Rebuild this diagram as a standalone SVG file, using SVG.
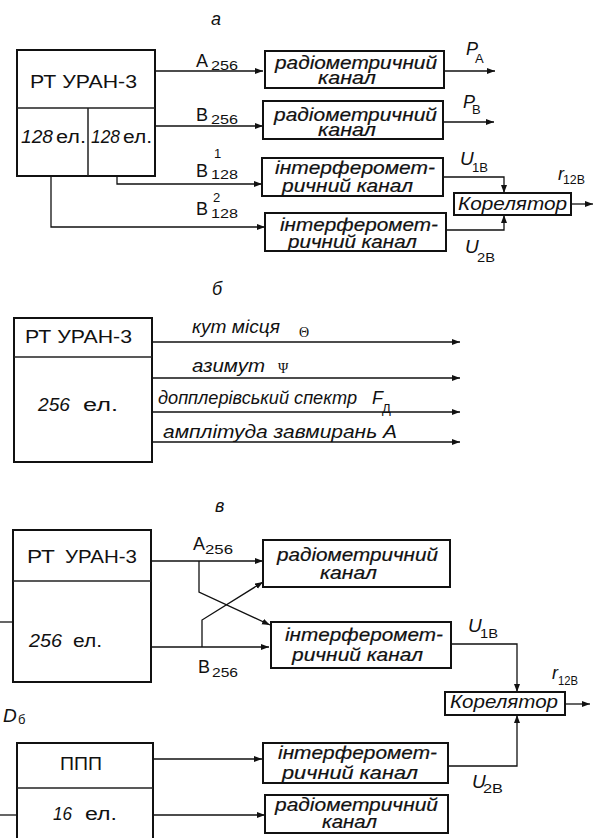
<svg xmlns="http://www.w3.org/2000/svg" width="598" height="838" viewBox="0 0 598 838">
<style>
.box{fill:#fff;stroke:#111;stroke-width:2}
.dv{stroke:#222;stroke-width:1.5;fill:none}
.ln{stroke:#111;stroke-width:1.3;fill:none}
.t{font-family:"Liberation Sans",Arial,sans-serif;fill:#111;font-size:18px}
.it{font-style:italic}
.ch{font-family:"Liberation Sans",Arial,sans-serif;fill:#111;font-size:19px;font-style:italic;stroke:#111;stroke-width:0.2}
.sb{font-size:13px;font-style:normal}
.sym{font-family:"Liberation Serif","DejaVu Serif",serif;fill:#111;font-size:14px}
</style>
<defs>
<marker id="ar" markerWidth="9" markerHeight="7" refX="8" refY="3" orient="auto" markerUnits="userSpaceOnUse">
<path d="M0,0 L8,3 L0,6 z" fill="#111"/>
</marker>
</defs>

<!-- section labels -->
<text class="t it" x="211" y="25">а</text>
<text class="t it" x="212" y="295">б</text>
<text class="t it" x="215" y="512">в</text>

<!-- connectors -->
<g id="connectors">
<path class="ln" d="M155,71 H263" marker-end="url(#ar)"/>
<path class="ln" d="M155,126 H263" marker-end="url(#ar)"/>
<path class="ln" d="M117,176 V184 H262" marker-end="url(#ar)"/>
<path class="ln" d="M51,176 V227 H265" marker-end="url(#ar)"/>
<path class="ln" d="M444,71 H495" marker-end="url(#ar)"/>
<path class="ln" d="M443,122 H494" marker-end="url(#ar)"/>
<path class="ln" d="M443,177 H504 V193" marker-end="url(#ar)"/>
<path class="ln" d="M446,230 H504 V215" marker-end="url(#ar)"/>
<path class="ln" d="M571,204 H593" marker-end="url(#ar)"/>

<path class="ln" d="M152,342 H460" marker-end="url(#ar)"/>
<path class="ln" d="M152,378 H460" marker-end="url(#ar)"/>
<path class="ln" d="M152,412 H460" marker-end="url(#ar)"/>
<path class="ln" d="M152,442 H460" marker-end="url(#ar)"/>

<path class="ln" d="M0,622 H13"/>
<path class="ln" d="M151,561 H263" marker-end="url(#ar)"/>
<path class="ln" d="M151,647 H269" marker-end="url(#ar)"/>
<path class="ln" d="M199,561 V592 L270,625" marker-end="url(#ar)"/>
<path class="ln" d="M202,647 V620 L263,582" marker-end="url(#ar)"/>
<path class="ln" d="M451,644 H517 V692" marker-end="url(#ar)"/>
<path class="ln" d="M565,704 H590" marker-end="url(#ar)"/>
<path class="ln" d="M0,815 H17"/>
<path class="ln" d="M153,759 H262" marker-end="url(#ar)"/>
<path class="ln" d="M153,815 H265" marker-end="url(#ar)"/>
<path class="ln" d="M448,766 H517 V715" marker-end="url(#ar)"/>
</g>

<!-- connector labels -->
<g id="labels">
<text class="t"><tspan x="196" y="67">А</tspan><tspan class="sb" x="211" y="70" textLength="27" lengthAdjust="spacingAndGlyphs">256</tspan></text>
<text class="t"><tspan x="196" y="121">В</tspan><tspan class="sb" x="211" y="124" textLength="27" lengthAdjust="spacingAndGlyphs">256</tspan></text>
<text class="t"><tspan x="196" y="177">В</tspan><tspan class="sb" x="214" y="158">1</tspan><tspan class="sb" x="211" y="179" textLength="27" lengthAdjust="spacingAndGlyphs">128</tspan></text>
<text class="t"><tspan x="196" y="215">В</tspan><tspan class="sb" x="213" y="202">2</tspan><tspan class="sb" x="211" y="218" textLength="27" lengthAdjust="spacingAndGlyphs">128</tspan></text>
<text class="t it"><tspan x="466" y="55">P</tspan><tspan class="sb" x="475" y="63">А</tspan></text>
<text class="t it"><tspan x="463" y="108">P</tspan><tspan class="sb" x="472" y="114">В</tspan></text>
<text class="t it"><tspan x="460" y="165" font-size="19">U</tspan><tspan class="sb" x="472" y="172" textLength="16" lengthAdjust="spacingAndGlyphs">1В</tspan></text>
<text class="t it"><tspan x="558" y="180">r</tspan><tspan class="sb" x="563" y="184" textLength="22" lengthAdjust="spacingAndGlyphs">12В</tspan></text>
<text class="t it"><tspan x="465" y="253" font-size="19">U</tspan><tspan class="sb" x="477" y="262" textLength="18" lengthAdjust="spacingAndGlyphs">2В</tspan></text>

<text class="t it" x="192" y="333" textLength="88" lengthAdjust="spacingAndGlyphs">кут місця</text>
<text class="sym" x="299" y="337" font-size="13">Θ</text>
<text class="t it" x="192" y="372" textLength="73" lengthAdjust="spacingAndGlyphs">азимут</text>
<text class="sym" x="278" y="373">Ψ</text>
<text class="t it" x="158" y="404" textLength="199" lengthAdjust="spacingAndGlyphs">допплерівський спектр</text>
<text class="t it"><tspan x="372" y="404">F</tspan><tspan class="sb" x="382" y="413">Д</tspan></text>
<text class="t it" x="163" y="438" textLength="234" lengthAdjust="spacingAndGlyphs">амплітуда завмирань А</text>

<text class="t"><tspan x="193" y="550">А</tspan><tspan class="sb" x="205" y="554" textLength="28" lengthAdjust="spacingAndGlyphs">256</tspan></text>
<text class="t"><tspan x="198" y="673">В</tspan><tspan class="sb" x="212" y="677" textLength="26" lengthAdjust="spacingAndGlyphs">256</tspan></text>
<text class="t it"><tspan x="468" y="632" font-size="19">U</tspan><tspan class="sb" x="480" y="638" textLength="18" lengthAdjust="spacingAndGlyphs">1В</tspan></text>
<text class="t it"><tspan x="552" y="679">r</tspan><tspan class="sb" x="558" y="685" textLength="20" lengthAdjust="spacingAndGlyphs">12В</tspan></text>
<text class="t it"><tspan x="472" y="788" font-size="19">U</tspan><tspan class="sb" x="483" y="793" textLength="20" lengthAdjust="spacingAndGlyphs">2В</tspan></text>
<text class="t it"><tspan x="3" y="722" font-size="19">D</tspan><tspan class="sb" x="18" y="724">б</tspan></text>
</g>

<!-- section a nodes -->
<g id="rt-a">
<rect class="box" x="17" y="50" width="138" height="126"/>
<path class="dv" d="M17,108 H155 M88,108 V176"/>
<text class="t" x="30" y="88" textLength="107" lengthAdjust="spacingAndGlyphs">РТ УРАН-3</text>
<text class="t" font-size="19"><tspan class="it" x="21" y="143" textLength="32" lengthAdjust="spacingAndGlyphs">128</tspan><tspan x="56" y="143" textLength="30" lengthAdjust="spacingAndGlyphs">ел.</tspan></text>
<text class="t" font-size="19"><tspan class="it" x="91" y="143" textLength="29" lengthAdjust="spacingAndGlyphs">128</tspan><tspan x="123" y="143" textLength="29" lengthAdjust="spacingAndGlyphs">ел.</tspan></text>
</g>
<g id="rad-a1">
<rect class="box" x="265" y="51" width="179" height="37"/>
<text class="ch"><tspan x="275" y="69" textLength="162" lengthAdjust="spacingAndGlyphs">радіометричний</tspan><tspan x="318" y="84" textLength="58" lengthAdjust="spacingAndGlyphs">канал</tspan></text>
</g>
<g id="rad-a2">
<rect class="box" x="263" y="101" width="180" height="38"/>
<text class="ch"><tspan x="274" y="121" textLength="163" lengthAdjust="spacingAndGlyphs">радіометричний</tspan><tspan x="318" y="136" textLength="58" lengthAdjust="spacingAndGlyphs">канал</tspan></text>
</g>
<g id="int-a1">
<rect class="box" x="262" y="158" width="181" height="38"/>
<text class="ch"><tspan x="275" y="174" textLength="160" lengthAdjust="spacingAndGlyphs">інтерферомет-</tspan><tspan x="282" y="192" textLength="131" lengthAdjust="spacingAndGlyphs">ричний канал</tspan></text>
</g>
<g id="int-a2">
<rect class="box" x="265" y="213" width="181" height="38"/>
<text class="ch"><tspan x="280" y="231" textLength="158" lengthAdjust="spacingAndGlyphs">інтерферомет-</tspan><tspan x="288" y="248" textLength="129" lengthAdjust="spacingAndGlyphs">ричний канал</tspan></text>
</g>
<g id="corr-a">
<rect class="box" x="454" y="193" width="117" height="22"/>
<text class="t it" x="458" y="210" textLength="109" lengthAdjust="spacingAndGlyphs">Корелятор</text>
</g>

<!-- section b nodes -->
<g id="rt-b">
<rect class="box" x="14" y="318" width="138" height="144"/>
<path class="dv" d="M14,357 H152"/>
<text class="t" x="25" y="343" textLength="107" lengthAdjust="spacingAndGlyphs">РТ УРАН-3</text>
<text class="t" font-size="19"><tspan class="it" x="38" y="411" textLength="32" lengthAdjust="spacingAndGlyphs">256</tspan><tspan x="83" y="411" textLength="35" lengthAdjust="spacingAndGlyphs">ел.</tspan></text>
</g>

<!-- section v nodes -->
<g id="rt-v">
<rect class="box" x="13" y="530" width="138" height="152"/>
<path class="dv" d="M13,581 H151"/>
<text class="t"><tspan x="27" y="563" textLength="28" lengthAdjust="spacingAndGlyphs">РТ</tspan><tspan x="65" y="563" textLength="72" lengthAdjust="spacingAndGlyphs">УРАН-3</tspan></text>
<text class="t"><tspan class="it" x="29" y="647" textLength="33" lengthAdjust="spacingAndGlyphs">256</tspan><tspan x="73" y="647" textLength="29" lengthAdjust="spacingAndGlyphs">ел.</tspan></text>
</g>
<g id="rad-v1">
<rect class="box" x="263" y="540" width="187" height="47"/>
<text class="ch"><tspan x="277" y="561" textLength="161" lengthAdjust="spacingAndGlyphs">радіометричний</tspan><tspan x="320" y="579" textLength="57" lengthAdjust="spacingAndGlyphs">канал</tspan></text>
</g>
<g id="int-v1">
<rect class="box" x="271" y="622" width="180" height="46"/>
<text class="ch"><tspan x="285" y="641" textLength="158" lengthAdjust="spacingAndGlyphs">інтерферомет-</tspan><tspan x="292" y="661" textLength="131" lengthAdjust="spacingAndGlyphs">ричний канал</tspan></text>
</g>
<g id="corr-v">
<rect class="box" x="445" y="692" width="120" height="23"/>
<text class="t it" x="450" y="708" textLength="108" lengthAdjust="spacingAndGlyphs">Корелятор</text>
</g>
<g id="ppp">
<rect class="box" x="17" y="743" width="136" height="110"/>
<path class="dv" d="M17,788 H153"/>
<text class="t" x="60" y="770" textLength="42" lengthAdjust="spacingAndGlyphs">ППП</text>
<text class="t"><tspan class="it" x="53" y="820" textLength="19" lengthAdjust="spacingAndGlyphs">16</tspan><tspan x="85" y="820" textLength="32" lengthAdjust="spacingAndGlyphs">ел.</tspan></text>
</g>
<g id="int-v2">
<rect class="box" x="263" y="743" width="185" height="40"/>
<text class="ch"><tspan x="278" y="759" textLength="159" lengthAdjust="spacingAndGlyphs">інтерферомет-</tspan><tspan x="282" y="779" textLength="136" lengthAdjust="spacingAndGlyphs">ричний канал</tspan></text>
</g>
<g id="rad-v2">
<rect class="box" x="265" y="795" width="183" height="38"/>
<text class="ch"><tspan x="275" y="811" textLength="163" lengthAdjust="spacingAndGlyphs">радіометричний</tspan><tspan x="322" y="828" textLength="55" lengthAdjust="spacingAndGlyphs">канал</tspan></text>
</g>
</svg>
